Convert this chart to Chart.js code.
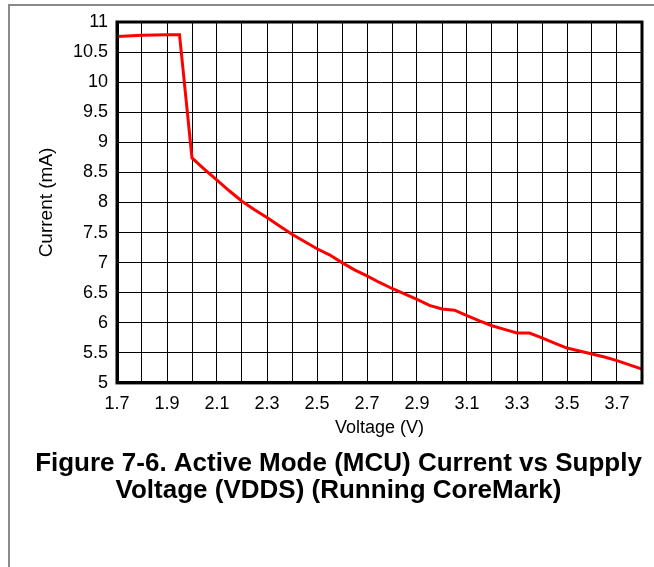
<!DOCTYPE html>
<html lang="en">
<head>
    <meta charset="UTF-8">
    <title>Active Mode (MCU) Current vs Supply Voltage</title>
    <script src="https://cdn.jsdelivr.net/npm/chart.js"></script>
    <style>
        body { margin: 0; background: #fff; font-family: "Liberation Sans", Arial, sans-serif; }
        #marco { position: absolute; left: 8px; top: 4px; width: 700px; height: 620px; border: 2px solid #8a8a8a; }
        #caja { position: absolute; left: 0; top: 0; width: 654px; height: 567px; }
    </style>
</head>
<body>
    <div id="marco"></div>
    <div id="caja"><canvas id="grafico"></canvas></div>

    <script>
        // Datos
        const voltage = [1.70, 1.80, 1.90, 1.95, 2.00, 2.05, 2.10, 2.15, 2.20, 2.25, 2.30, 2.35, 2.40, 2.45,
                         2.50, 2.55, 2.60, 2.65, 2.70, 2.75, 2.80, 2.85, 2.90, 2.95, 3.00, 3.05, 3.10, 3.15,
                         3.20, 3.25, 3.30, 3.35, 3.40, 3.45, 3.50, 3.55, 3.60, 3.65, 3.70, 3.75, 3.80];
        const current = [10.76, 10.78, 10.79, 10.79, 8.74, 8.55, 8.37, 8.19, 8.02, 7.88, 7.75, 7.61, 7.47, 7.35,
                         7.23, 7.13, 7.00, 6.88, 6.78, 6.67, 6.57, 6.48, 6.39, 6.29, 6.23, 6.21, 6.12, 6.03,
                         5.95, 5.89, 5.83, 5.83, 5.75, 5.66, 5.58, 5.53, 5.48, 5.43, 5.37, 5.30, 5.23];
        const xLabeled = [1.7, 1.9, 2.1, 2.3, 2.5, 2.7, 2.9, 3.1, 3.3, 3.5, 3.7];
        const titleLines = ["Figure 7-6. Active Mode (MCU) Current vs Supply", "Voltage (VDDS) (Running CoreMark)"];

        const fuente = '"Liberation Sans", Arial, sans-serif';

        // marco negro grueso alrededor del area del grafico
        const marcoPlot = {
            id: "marcoPlot",
            afterDraw(chart) {
                const a = chart.chartArea;
                const ctx = chart.ctx;
                ctx.save();
                ctx.strokeStyle = "#000";
                ctx.lineWidth = 3;
                ctx.strokeRect(a.left, a.top, a.right - a.left, a.bottom - a.top);
                ctx.restore();
            }
        };

        let ctx = document.getElementById("grafico").getContext("2d");
        new Chart(ctx, {
            type: "line",
            data: {
                datasets: [{
                    data: voltage.map((v, i) => ({ x: v, y: current[i] })),
                    borderColor: "#ff0000",
                    borderWidth: 3,
                    pointRadius: 0,
                    tension: 0,
                    fill: false
                }]
            },
            options: {
                responsive: true,
                maintainAspectRatio: false,
                animation: false,
                layout: { padding: { left: 35, right: 12, top: 22, bottom: 62.5 } },
                plugins: {
                    legend: { display: false },
                    tooltip: { enabled: false },
                    title: {
                        display: true,
                        position: "bottom",
                        text: titleLines,
                        color: "#000",
                        font: { family: fuente, size: 26, weight: "bold", lineHeight: 1.04 },
                        padding: { top: 11.5, bottom: 0 }
                    }
                },
                scales: {
                    x: {
                        type: "linear",
                        min: 1.7,
                        max: 3.8,
                        afterFit: s => { s.height = 56; },
                        ticks: {
                            stepSize: 0.1,
                            autoSkip: false,
                            maxRotation: 0,
                            padding: 10,
                            color: "#000",
                            font: { family: fuente, size: 18 },
                            callback: v => xLabeled.some(l => Math.abs(l - v) < 1e-6) ? v.toFixed(1) : ""
                        },
                        grid: { color: "#000", lineWidth: 1, drawTicks: false },
                        border: { color: "#000", width: 3 },
                        title: {
                            display: true,
                            text: "Voltage (V)",
                            color: "#000",
                            font: { family: fuente, size: 18 },
                            padding: { top: 0, bottom: 0 }
                        }
                    },
                    y: {
                        min: 5,
                        max: 11,
                        afterFit: s => { s.width = 82; },
                        ticks: {
                            stepSize: 0.5,
                            padding: 9,
                            color: "#000",
                            font: { family: fuente, size: 18 },
                            callback: v => String(Math.round(v * 10) / 10)
                        },
                        grid: { color: "#000", lineWidth: 1, drawTicks: false },
                        border: { color: "#000", width: 3 },
                        title: {
                            display: true,
                            text: "Current (mA)",
                            color: "#000",
                            font: { family: fuente, size: 19 },
                            padding: { top: 0, bottom: 0 }
                        }
                    }
                }
            },
            plugins: [marcoPlot]
        });
    </script>
</body>
</html>
